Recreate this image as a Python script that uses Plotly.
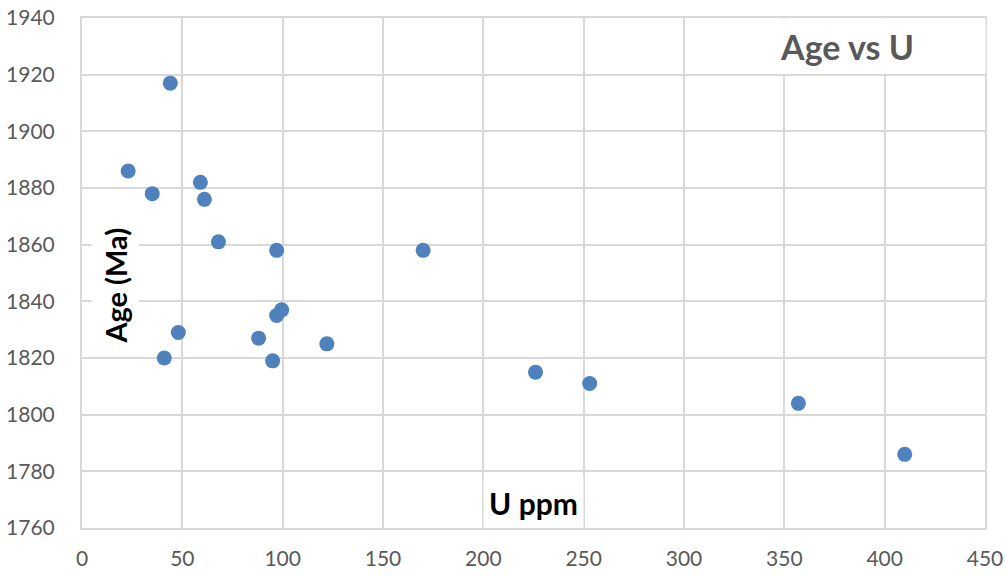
import plotly.graph_objects as go

# U concentration (ppm) and age (Ma) for each analysed grain
u_ppm = [44, 23, 35, 59, 61, 68, 97, 170, 99.5, 97, 48, 88, 122, 41, 95, 226, 253, 357, 410]
age_ma = [1917, 1886, 1878, 1882, 1876, 1861, 1858, 1858, 1837, 1835, 1829, 1827, 1825, 1820, 1819, 1815, 1811, 1804, 1786]

x_ticks = [0, 50, 100, 150, 200, 250, 300, 350, 400, 450]
y_ticks = [1760, 1780, 1800, 1820, 1840, 1860, 1880, 1900, 1920, 1940]

GRID = "#D9D9D9"
TICK_TEXT = "#595959"
FONT = "Lato"

fig = go.Figure()
fig.add_trace(go.Scatter(
    x=u_ppm, y=age_ma, mode="markers",
    marker=dict(size=15, color="#4F81BD", line=dict(width=0)),
    showlegend=False, hoverinfo="x+y",
))

axis_common = dict(
    showgrid=True, gridcolor=GRID, gridwidth=2,
    showline=True, linecolor=GRID, linewidth=2, mirror=True,
    zeroline=False, ticks="", automargin=False,
    tickfont=dict(family=FONT, size=21, color=TICK_TEXT),
)

fig.update_xaxes(range=[0, 450], tickvals=x_ticks, ticklabelstandoff=11, **axis_common)
fig.update_yaxes(range=[1760, 1940], tickvals=y_ticks, ticklabelstandoff=21, **axis_common)

# Chart title in a white box at the upper right of the plot
fig.add_annotation(
    x=381, y=1930, xref="x", yref="y", text="<b>Age vs U</b>", showarrow=False,
    font=dict(family=FONT, size=34, color=TICK_TEXT),
    bgcolor="white", width=276, height=54, borderpad=0,
)
# Y-axis title, rotated, inside the plot
fig.add_annotation(
    x=16.4, y=1845.5, xref="x", yref="y", text="<b>Age (Ma)</b>", showarrow=False,
    textangle=-90, font=dict(family=FONT, size=29, color="black"),
    bgcolor="white", width=132, height=46, borderpad=0,
)
# X-axis title, inside the plot near the bottom
fig.add_annotation(
    x=225, y=1769, xref="x", yref="y", text="<b>U ppm</b>", showarrow=False,
    font=dict(family=FONT, size=30, color="black"),
    bgcolor="white", width=99, height=49, borderpad=0,
)

fig.update_layout(
    width=1006, height=576,
    margin=dict(l=82, r=21, t=18, b=48),
    paper_bgcolor="white", plot_bgcolor="white",
)

fig.write_html("out.html")
